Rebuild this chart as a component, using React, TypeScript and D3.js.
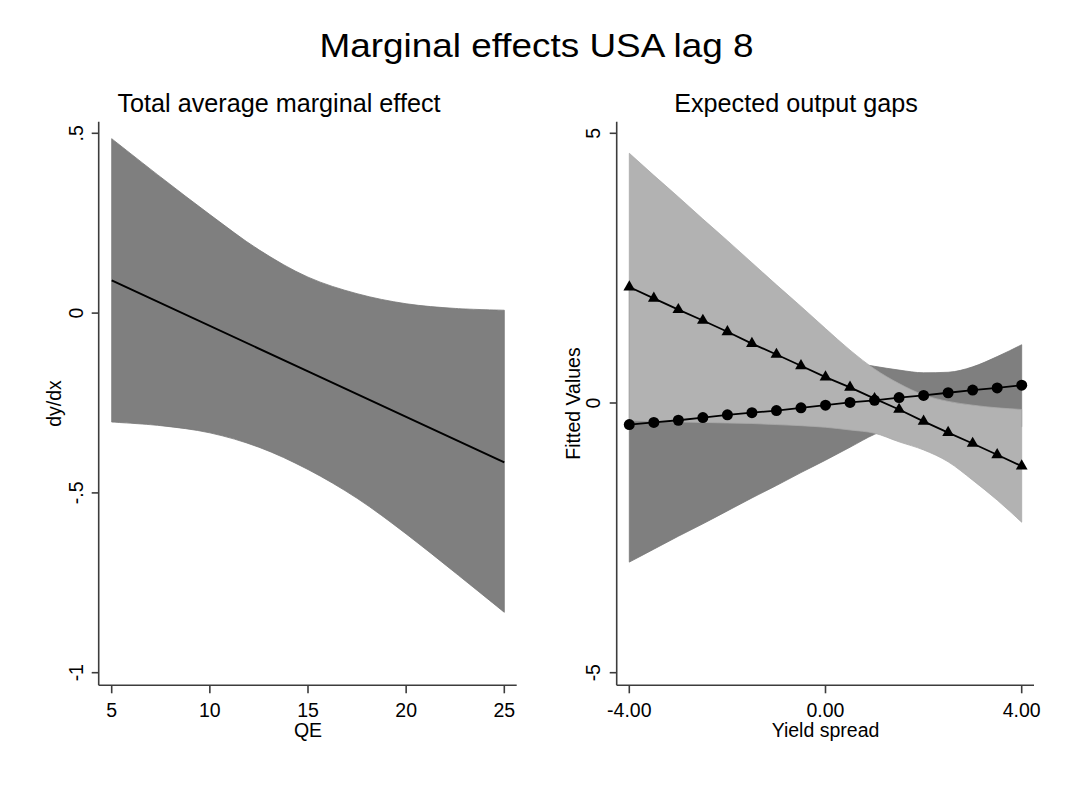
import React, { useEffect, useRef } from "react";
import * as d3 from "d3";

// left panel: total average marginal effect vs QE
const qeGrid = [5, 7.5, 10, 12.5, 15, 17.5, 20, 22.5, 25];
const meUpper = [0.485, 0.378, 0.274, 0.176, 0.1, 0.054, 0.026, 0.013, 0.008];
const meLower = [-0.303, -0.313, -0.333, -0.373, -0.435, -0.515, -0.614, -0.722, -0.832];
const qeLine = [5, 15, 25];
const meLine = [0.091, -0.162, -0.415];
const qeTicks = [5, 10, 15, 20, 25];
const meTicks = [0.5, 0, -0.5, -1];
const meTickLabels = [".5", "0", "-.5", "-1"];

// right panel: expected output gaps vs yield spread
const spread = [-4, -3.5, -3, -2.5, -2, -1.5, -1, -0.5, 0, 0.5, 1, 1.5, 2, 2.5, 3, 3.5, 4];
const triFit = [2.15, 1.94, 1.73, 1.53, 1.32, 1.1, 0.9, 0.69, 0.48, 0.29, 0.08, -0.12, -0.34, -0.55, -0.75, -0.96, -1.17];
const triUpper = [4.63, 4.22, 3.82, 3.41, 3.01, 2.6, 2.19, 1.79, 1.38, 0.98, 0.63, 0.36, 0.15, 0.03, -0.04, -0.09, -0.12];
const triLower = [-0.33, -0.34, -0.35, -0.36, -0.37, -0.38, -0.4, -0.42, -0.45, -0.5, -0.56, -0.72, -0.87, -1.09, -1.43, -1.8, -2.21];
const dotFit = [-0.4, -0.36, -0.32, -0.27, -0.22, -0.18, -0.14, -0.09, -0.04, 0.01, 0.05, 0.1, 0.14, 0.19, 0.24, 0.28, 0.33];
const dotUpper = [2.15, 1.95, 1.75, 1.56, 1.38, 1.21, 1.06, 0.93, 0.83, 0.76, 0.68, 0.61, 0.56, 0.57, 0.67, 0.86, 1.08];
const dotLower = [-2.95, -2.71, -2.47, -2.24, -2.0, -1.76, -1.53, -1.29, -1.06, -0.82, -0.58, -0.42, -0.3, -0.26, -0.28, -0.36, -0.44];
const spreadTicks = [-4, 0, 4];
const fitTicks = [5, 0, -5];

const FONT = "'Liberation Sans', Arial, sans-serif";
const AXIS = "#3c3c3c";
const DARK = "#7f7f7f";
const LIGHT = "#b2b2b2";

export default function App() {
  const ref = useRef<SVGSVGElement>(null);

  useEffect(() => {
    const svg = d3.select(ref.current);
    svg.selectAll("*").remove();

    svg.append("rect").attr("width", 1071).attr("height", 787).style("fill", "#ffffff");

    // Stata's title renders a bit wider than Arial, so stretch it horizontally
    svg.append("text")
      .attr("transform", "translate(536.5,57) scale(1.085,1)")
      .attr("text-anchor", "middle")
      .style("font-family", FONT).style("font-size", "34px")
      .text("Marginal effects USA lag 8");

    // generic axes for a panel
    function drawAxes(g: any, x: any, y: any, box: any, xt: number[], xl: string[], yt: number[], yl: string[], sub: string, subX: number, xTitle: string, yTitle: string, yTitleX: number, yLabX: number) {
      g.append("text")
        .attr("x", subX).attr("y", 112)
        .attr("text-anchor", "middle")
        .style("font-family", FONT).style("font-size", "25.2px")
        .text(sub);

      g.append("line")
        .attr("x1", box.left).attr("x2", box.left)
        .attr("y1", box.top).attr("y2", box.bottom)
        .style("stroke", AXIS).style("stroke-width", 1.6);
      g.append("line")
        .attr("x1", box.left).attr("x2", box.right)
        .attr("y1", box.bottom).attr("y2", box.bottom)
        .style("stroke", AXIS).style("stroke-width", 1.6);

      yt.forEach((v, i) => {
        g.append("line")
          .attr("x1", box.left - 7).attr("x2", box.left)
          .attr("y1", y(v)).attr("y2", y(v))
          .style("stroke", AXIS).style("stroke-width", 1.6);
        g.append("text")
          .attr("transform", `translate(${yLabX},${y(v)}) rotate(-90)`)
          .attr("text-anchor", "middle")
          .style("font-family", FONT).style("font-size", "19.5px")
          .text(yl[i]);
      });
      xt.forEach((v, i) => {
        g.append("line")
          .attr("x1", x(v)).attr("x2", x(v))
          .attr("y1", box.bottom).attr("y2", box.bottom + 8)
          .style("stroke", AXIS).style("stroke-width", 1.6);
        g.append("text")
          .attr("x", x(v)).attr("y", 717)
          .attr("text-anchor", "middle")
          .style("font-family", FONT).style("font-size", "19.5px")
          .text(xl[i]);
      });

      g.append("text")
        .attr("x", (x(xt[0]) + x(xt[xt.length - 1])) / 2).attr("y", 737)
        .attr("text-anchor", "middle")
        .style("font-family", FONT).style("font-size", "19.5px")
        .text(xTitle);
      g.append("text")
        .attr("transform", `translate(${yTitleX},${(box.top + box.bottom) / 2}) rotate(-90)`)
        .attr("text-anchor", "middle")
        .style("font-family", FONT).style("font-size", "19.5px")
        .text(yTitle);
    }

    // ---- left panel
    let box1 = { left: 98.7, right: 516.7, top: 121.7, bottom: 685.3 };
    let x1 = d3.scaleLinear().domain([5, 25]).range([111.7, 504.3]);
    let y1 = d3.scaleLinear().domain([-1, 0.5]).range([672.7, 133.3]);
    let g1 = svg.append("g");

    let area1 = d3.area<number>()
      .x((d, i) => x1(qeGrid[i]))
      .y0((d, i) => y1(meLower[i]))
      .y1((d, i) => y1(meUpper[i]))
      .curve(d3.curveCatmullRom.alpha(0.5));
    g1.append("path").attr("d", area1(qeGrid) as string)
      .style("fill", DARK).style("stroke", "#777").style("stroke-width", 0.8);

    let line1 = d3.line<number>()
      .x((d, i) => x1(qeLine[i]))
      .y((d) => y1(d));
    g1.append("path").attr("d", line1(meLine) as string)
      .style("fill", "none").style("stroke", "#000").style("stroke-width", 2);

    drawAxes(g1, x1, y1, box1, qeTicks, qeTicks.map(String), meTicks, meTickLabels,
      "Total average marginal effect", 279, "QE", "dy/dx", 61, 82.5);

    // ---- right panel
    let box2 = { left: 616.7, right: 1034, top: 121.7, bottom: 685.3 };
    let x2 = d3.scaleLinear().domain([-4, 4]).range([629.3, 1021.7]);
    let y2 = d3.scaleLinear().domain([-5, 5]).range([672.7, 133.3]);
    let g2 = svg.append("g");

    function band(lo: number[], hi: number[]) {
      return d3.area<number>()
        .x((d) => x2(d))
        .y0((d, i) => y2(lo[i]))
        .y1((d, i) => y2(hi[i]))
        .curve(d3.curveMonotoneX)(spread) as string;
    }
    g2.append("path").attr("d", band(dotLower, dotUpper))
      .style("fill", DARK).style("stroke", "#777").style("stroke-width", 0.8);
    g2.append("path").attr("d", band(triLower, triUpper))
      .style("fill", LIGHT).style("stroke", "#aaa").style("stroke-width", 0.8);

    let line2 = d3.line<number>().x((d, i) => x2(spread[i])).y((d) => y2(d));
    [triFit, dotFit].forEach((s) => {
      g2.append("path").attr("d", line2(s) as string)
        .style("fill", "none").style("stroke", "#000").style("stroke-width", 1.8);
    });

    let tri = d3.symbol().type(d3.symbolTriangle).size(60);
    g2.selectAll("path.tri").data(triFit).enter().append("path")
      .attr("class", "tri")
      .attr("d", tri() as string)
      .attr("transform", (d, i) => `translate(${x2(spread[i])},${y2(d)})`)
      .style("fill", "#000");
    g2.selectAll("circle.dot").data(dotFit).enter().append("circle")
      .attr("class", "dot")
      .attr("cx", (d, i) => x2(spread[i]))
      .attr("cy", (d) => y2(d))
      .attr("r", 5.5)
      .style("fill", "#000");

    drawAxes(g2, x2, y2, box2, spreadTicks, spreadTicks.map((v) => v.toFixed(2)), fitTicks, fitTicks.map(String),
      "Expected output gaps", 796, "Yield spread", "Fitted Values", 580, 600);
  }, []);

  return (
    <svg ref={ref} width={1071} height={787}
      style={{ position: "absolute", left: 0, top: 0, display: "block" }}></svg>
  );
}
